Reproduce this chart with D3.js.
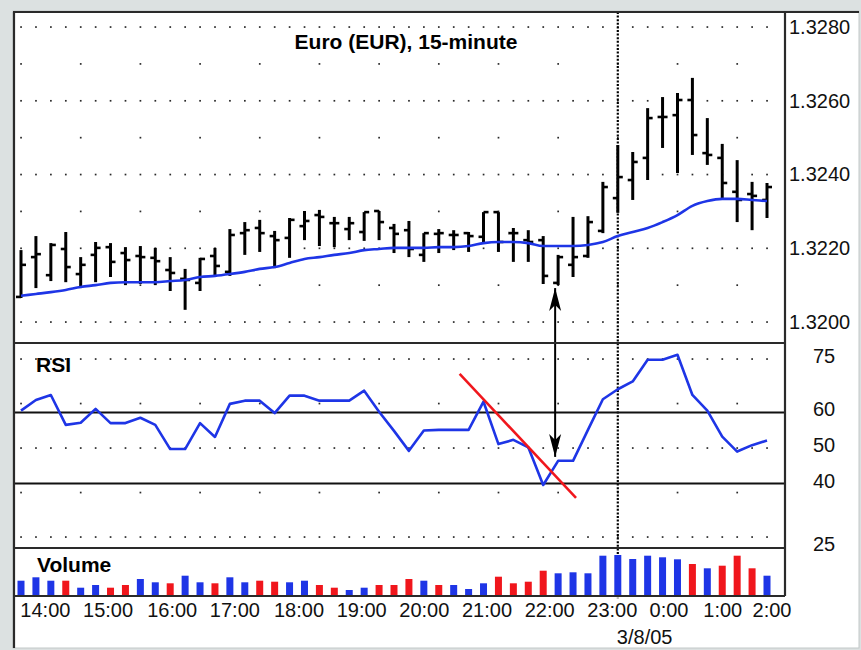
<!DOCTYPE html>
<html>
<head>
<meta charset="utf-8">
<script src="https://cdn.jsdelivr.net/npm/d3@7"></script>
<style>
    body { margin: 0; background: #dce1e1; }
    svg text { font-family: "Liberation Sans", Arial, sans-serif; }
</style>
</head>
<body>
<div id="chart"></div>
<script>
// 15-minute EUR bars, index 0..50
const open = [1.32068, 1.32176, 1.32127, 1.32198, 1.32130, 1.32182, 1.32203, 1.32187, 1.32179, 1.32174, 1.32141, 1.32117, 1.32106, 1.32179, 1.32136, 1.32241, 1.32255, 1.32233, 1.32228, 1.32260, 1.32290, 1.32268, 1.32252, 1.32244, 1.32301, 1.32255, 1.32249, 1.32182, 1.32239, 1.32236, 1.32241, 1.32231, 1.32298, 1.32241, 1.32222, 1.32222, 1.32106, 1.32155, 1.32179, 1.32247, 1.32336, 1.32385, 1.32445, 1.32556, 1.32561, 1.32602, 1.32458, 1.32445, 1.32353, 1.32347, 1.32331]
const high = [1.32195, 1.32233, 1.32214, 1.32244, 1.32176, 1.32217, 1.32214, 1.32203, 1.32206, 1.32201, 1.32176, 1.32144, 1.32174, 1.32201, 1.32252, 1.32271, 1.32277, 1.32247, 1.32282, 1.32301, 1.32304, 1.32285, 1.32285, 1.32298, 1.32301, 1.32266, 1.32274, 1.32241, 1.32252, 1.32249, 1.32244, 1.32298, 1.32298, 1.32255, 1.32249, 1.32233, 1.32182, 1.32285, 1.32287, 1.32380, 1.32480, 1.32461, 1.32580, 1.32610, 1.32621, 1.32662, 1.32553, 1.32483, 1.32439, 1.32380, 1.32377]
const low = [1.32065, 1.32092, 1.32111, 1.32108, 1.32092, 1.32108, 1.32122, 1.32100, 1.32103, 1.32100, 1.32084, 1.32033, 1.32084, 1.32122, 1.32125, 1.32182, 1.32190, 1.32146, 1.32174, 1.32222, 1.32206, 1.32203, 1.32222, 1.32220, 1.32222, 1.32187, 1.32176, 1.32163, 1.32187, 1.32195, 1.32190, 1.32214, 1.32190, 1.32163, 1.32163, 1.32103, 1.32100, 1.32122, 1.32174, 1.32241, 1.32296, 1.32331, 1.32385, 1.32472, 1.32404, 1.32453, 1.32426, 1.32336, 1.32271, 1.32249, 1.32282]
const close = [1.32155, 1.32184, 1.32209, 1.32149, 1.32155, 1.32201, 1.32163, 1.32168, 1.32176, 1.32165, 1.32133, 1.32114, 1.32171, 1.32152, 1.32236, 1.32249, 1.32241, 1.32222, 1.32277, 1.32274, 1.32285, 1.32268, 1.32268, 1.32298, 1.32271, 1.32239, 1.32198, 1.32241, 1.32241, 1.32236, 1.32233, 1.32298, 1.32217, 1.32241, 1.32217, 1.32125, 1.32176, 1.32176, 1.32271, 1.32366, 1.32393, 1.32434, 1.32553, 1.32556, 1.32602, 1.32507, 1.32453, 1.32377, 1.32331, 1.32342, 1.32366]
const movingAvg = [1.32071, 1.32076, 1.32081, 1.32087, 1.32095, 1.32100, 1.32106, 1.32108, 1.32108, 1.32108, 1.32111, 1.32114, 1.32122, 1.32125, 1.32130, 1.32136, 1.32144, 1.32149, 1.32160, 1.32171, 1.32176, 1.32182, 1.32187, 1.32195, 1.32198, 1.32201, 1.32201, 1.32201, 1.32203, 1.32203, 1.32206, 1.32214, 1.32217, 1.32217, 1.32214, 1.32206, 1.32206, 1.32206, 1.32209, 1.32217, 1.32233, 1.32244, 1.32255, 1.32271, 1.32290, 1.32315, 1.32328, 1.32334, 1.32334, 1.32331, 1.32328]
const rsi = [60.5, 63.5, 64.9, 56.5, 57.1, 61.0, 57.0, 57.0, 58.5, 56.5, 49.7, 49.7, 57.0, 53.1, 62.4, 63.3, 63.3, 59.8, 64.7, 64.7, 63.3, 63.3, 63.3, 66.1, 60.2, 54.8, 49.2, 54.9, 55.1, 55.1, 55.1, 63.0, 51.1, 52.3, 50.2, 39.6, 46.4, 46.4, 55.1, 63.7, 66.5, 68.7, 74.8, 74.8, 76.2, 64.9, 60.5, 53.2, 49.0, 50.8, 52.1]
const volume = [153, 187, 153, 153, 83, 110, 83, 110, 170, 137, 127, 203, 137, 127, 187, 137, 153, 143, 137, 153, 110, 83, 60, 83, 110, 110, 170, 153, 110, 110, 70, 127, 193, 127, 143, 253, 227, 237, 227, 403, 410, 370, 403, 387, 367, 320, 277, 303, 403, 277, 203]
// 1 = blue, 0 = red
const volumeUp = [1, 1, 1, 0, 1, 1, 0, 0, 1, 1, 0, 1, 1, 0, 1, 1, 0, 0, 1, 1, 0, 0, 1, 1, 0, 0, 0, 1, 0, 1, 1, 1, 0, 0, 0, 0, 1, 1, 1, 1, 1, 1, 1, 1, 1, 0, 1, 0, 0, 0, 1]

const priceTicks = [1.3200, 1.3220, 1.3240, 1.3260, 1.3280]
const priceMinor = [1.3210, 1.3230, 1.3250, 1.3270]
const rsiTicks = [25, 40, 50, 60, 75]
const rsiGridMajor = [25, 50, 75]
const rsiGridMinor = [37.5, 62.5]
const rsiLevels = [40, 60]
const xTickLabels = ["14:00", "15:00", "16:00", "17:00", "18:00", "19:00", "20:00", "21:00", "22:00", "23:00", "0:00", "1:00", "2:00"]
const xTickAt = [1.6, 5.8, 10.1, 14.3, 18.6, 22.8, 27.0, 31.2, 35.4, 39.6, 43.4, 47.0, 50.3]
const dateLabel = "3/8/05", dateLabelAt = 41.8
const sessionBreak = 40
const rsiTrend = [[29.4, 70.8], [37.2, 36.0]]
const arrowAt = 35.8, arrowTopPrice = 1.32092, arrowBottomRsi = 47.5

const W = 861, H = 650
const plotLeft = 14, plotRight = 785
const priceTop = 12, rsiTop = 343, volTop = 548, volBottom = 596

const blue = "#1e35e6", red = "#f0161c"

const svg = d3.select("#chart")
    .append("svg")
    .attr("width", W)
    .attr("height", H)

// window frame
svg.append("rect")
    .attr("x", 13).attr("y", 11)
    .attr("width", 846).attr("height", 637)
    .attr("fill", "white")
    .attr("stroke", "#c2c8c8")
    .attr("stroke-width", 1)

let x = d3.scaleLinear().domain([0, 50]).range([21, 767])
let yPrice = d3.scaleLinear().domain([1.3200, 1.3280]).range([322, 27])
let yRsi = d3.scaleLinear().domain([25, 75]).range([537, 359])
let yVol = d3.scaleLinear().domain([0, 470]).range([volBottom, volTop + 1])

const every = d3.range(0, open.length)
const hourly = d3.range(0, open.length, 4)

// dotted grid
function dotRow(yPos, cols) {
    svg.append("g")
        .selectAll("rect")
        .data(cols)
        .join("rect")
        .attr("x", function (d) { return x(d) - 0.8 })
        .attr("y", yPos - 0.8)
        .attr("width", 1.7)
        .attr("height", 1.7)
        .attr("fill", "#2a2a2a")
}
priceTicks.forEach(function (p) { dotRow(yPrice(p), every) })
priceMinor.forEach(function (p) { dotRow(yPrice(p), hourly) })
rsiGridMajor.forEach(function (v) { dotRow(yRsi(v), every) })
rsiGridMinor.forEach(function (v) { dotRow(yRsi(v), hourly) })

// session break
svg.append("line")
    .attr("x1", x(sessionBreak)).attr("x2", x(sessionBreak))
    .attr("y1", priceTop).attr("y2", volBottom + 3)
    .attr("stroke", "#000")
    .attr("stroke-width", 2.2)
    .attr("stroke-dasharray", "2,1.6")

// RSI 40 / 60 lines
svg.append("g")
    .selectAll("line")
    .data(rsiLevels)
    .join("line")
    .attr("x1", plotLeft).attr("x2", plotRight)
    .attr("y1", function (d) { return yRsi(d) })
    .attr("y2", function (d) { return yRsi(d) })
    .attr("stroke", "#111")
    .attr("stroke-width", 2)

// OHLC bars
let bars = svg.append("g")
    .selectAll("g")
    .data(every)
    .join("g")
    .attr("stroke", "#000")

bars.append("line")
    .attr("x1", function (i) { return x(i) }).attr("x2", function (i) { return x(i) })
    .attr("y1", function (i) { return yPrice(high[i]) })
    .attr("y2", function (i) { return yPrice(low[i]) })
    .attr("stroke-width", 3)
bars.append("line")
    .attr("x1", function (i) { return x(i) - 5 }).attr("x2", function (i) { return x(i) })
    .attr("y1", function (i) { return yPrice(open[i]) })
    .attr("y2", function (i) { return yPrice(open[i]) })
    .attr("stroke-width", 2.6)
bars.append("line")
    .attr("x1", function (i) { return x(i) }).attr("x2", function (i) { return x(i) + 5 })
    .attr("y1", function (i) { return yPrice(close[i]) })
    .attr("y2", function (i) { return yPrice(close[i]) })
    .attr("stroke-width", 2.6)

// moving average
svg.append("path")
    .datum(movingAvg)
    .attr("fill", "none")
    .attr("stroke", blue)
    .attr("stroke-width", 2.6)
    .attr("d", d3.line()
        .x(function (d, i) { return x(i) })
        .y(function (d) { return yPrice(d) })
        .curve(d3.curveMonotoneX)
    )

// RSI line
svg.append("path")
    .datum(rsi)
    .attr("fill", "none")
    .attr("stroke", blue)
    .attr("stroke-width", 2.6)
    .attr("stroke-linejoin", "round")
    .attr("d", d3.line()
        .x(function (d, i) { return x(i) })
        .y(function (d) { return yRsi(d) })
    )

// RSI trend line
svg.append("line")
    .attr("x1", x(rsiTrend[0][0])).attr("y1", yRsi(rsiTrend[0][1]))
    .attr("x2", x(rsiTrend[1][0])).attr("y2", yRsi(rsiTrend[1][1]))
    .attr("stroke", red)
    .attr("stroke-width", 2.6)

// volume
svg.append("g")
    .selectAll("rect")
    .data(volume)
    .join("rect")
    .attr("x", function (d, i) { return x(i) - 3.5 })
    .attr("width", 7)
    .attr("y", function (d) { return yVol(d) })
    .attr("height", function (d) { return yVol(0) - yVol(d) })
    .attr("fill", function (d, i) { return volumeUp[i] ? blue : red })

// double arrow
svg.append("defs").append("marker")
    .attr("id", "head")
    .attr("viewBox", "-24 -7 26 14")
    .attr("refX", 0).attr("refY", 0)
    .attr("markerWidth", 26).attr("markerHeight", 14)
    .attr("markerUnits", "userSpaceOnUse")
    .attr("orient", "auto-start-reverse")
    .append("path")
    .attr("d", "M0,0 L-23,-6 L-17,0 L-23,6 Z")
    .attr("fill", "#000")

svg.append("line")
    .attr("x1", x(arrowAt)).attr("x2", x(arrowAt))
    .attr("y1", yPrice(arrowTopPrice))
    .attr("y2", yRsi(arrowBottomRsi))
    .attr("stroke", "#000")
    .attr("stroke-width", 2)
    .attr("marker-start", "url(#head)")
    .attr("marker-end", "url(#head)")

// panel frame lines
const frame = svg.append("g").attr("stroke", "#2a2a2a").attr("stroke-width", 2.2)
frame.append("line").attr("x1", 13).attr("x2", W - 2).attr("y1", priceTop).attr("y2", priceTop)
frame.append("line").attr("x1", 14).attr("x2", 14).attr("y1", priceTop).attr("y2", H - 2)
frame.append("line").attr("x1", plotRight).attr("x2", plotRight).attr("y1", priceTop).attr("y2", volBottom)
;[rsiTop, volTop, volBottom].forEach(function (yy) {
    frame.append("line").attr("x1", plotLeft).attr("x2", plotRight).attr("y1", yy).attr("y2", yy)
})

// axes
let priceAxis = svg.append("g")
    .attr("transform", `translate(${plotRight},0)`)
    .call(d3.axisRight(yPrice)
        .tickValues(priceTicks)
        .tickFormat(d3.format(".4f"))
        .tickSize(0)
        .tickPadding(4))
let rsiAxis = svg.append("g")
    .attr("transform", `translate(${plotRight},-3)`)
    .call(d3.axisRight(yRsi)
        .tickValues(rsiTicks)
        .tickSize(0)
        .tickPadding(28))
let timeAxis = svg.append("g")
    .attr("transform", `translate(0,${volBottom})`)
    .call(d3.axisBottom(x)
        .tickValues(xTickAt)
        .tickFormat(function (d, i) { return xTickLabels[i] })
        .tickSize(0)
        .tickPadding(7))

;[priceAxis, rsiAxis, timeAxis].forEach(function (a) {
    a.select(".domain").remove()
    a.selectAll("text")
        .attr("font-size", "20px")
        .attr("font-family", "Liberation Sans, Arial, sans-serif")
        .attr("fill", "#111")
})
// the lowest RSI label sits under its grid row in the original
rsiAxis.selectAll(".tick text")
    .filter(function (d) { return d === 25 })
    .attr("dy", "0.8em")

svg.append("text")
    .attr("x", x(dateLabelAt))
    .attr("y", 644)
    .attr("text-anchor", "middle")
    .attr("font-size", "20px")
    .attr("fill", "#111")
    .text(dateLabel)

// panel titles
svg.append("text")
    .attr("x", 406).attr("y", 49)
    .attr("text-anchor", "middle")
    .attr("font-size", "21px")
    .attr("font-weight", "bold")
    .text("Euro (EUR), 15-minute")
svg.append("text")
    .attr("x", 36).attr("y", 372)
    .attr("font-size", "21px")
    .attr("font-weight", "bold")
    .text("RSI")
svg.append("text")
    .attr("x", 37).attr("y", 572)
    .attr("font-size", "21px")
    .attr("font-weight", "bold")
    .text("Volume")
</script>
</body>
</html>
